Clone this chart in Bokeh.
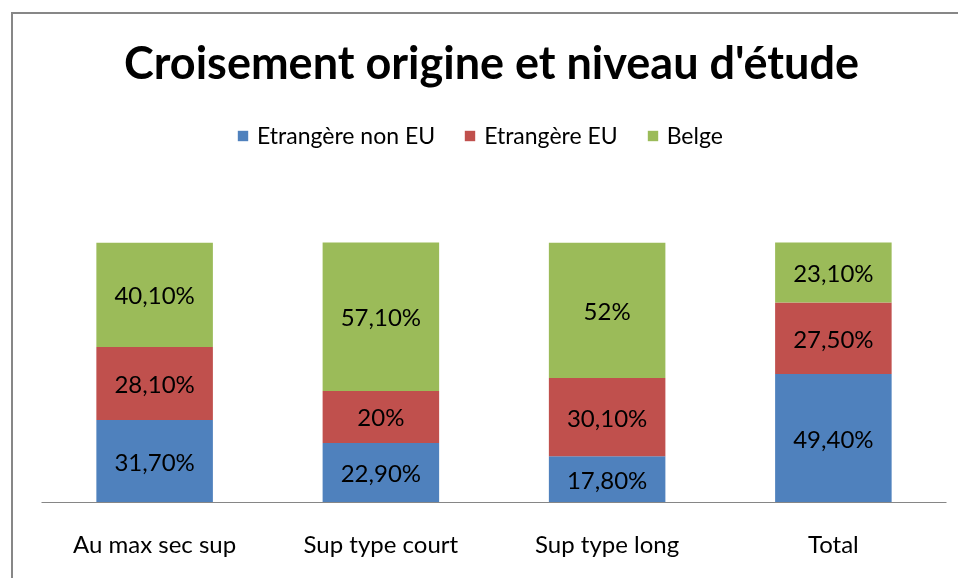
from bokeh.plotting import figure
from bokeh.models import (FactorRange, Range1d, ColumnDataSource, Legend, LegendItem, Label,
                          GlobalInlineStyleSheet)
from bokeh.core.properties import value
from bokeh.embed import file_html
from bokeh.resources import INLINE

categories = ["Au max sec sup", "Sup type court", "Sup type long", "Total"]
series_names = ["Etrangère non EU", "Etrangère EU", "Belge"]
non_eu = [31.7, 22.9, 17.8, 49.4]
eu = [28.1, 20.0, 30.1, 27.5]
belge = [40.1, 57.1, 52.0, 23.1]
colors = ["#4F81BD", "#C0504D", "#9BBB59"]
title_text = "Croisement origine et niveau d'étude"

FONT = "Lato"

def fmt(v):
    if abs(v - round(v)) < 1e-9:
        return f"{int(round(v))}%"
    return f"{v:.2f}".replace(".", ",") + "%"

# layout (pixels)
W, H = 947, 566
FRAME_H = 488          # frame height in px (bars use the lower 260 px for 0..100 %)
BAR_PX = 260
y_max = 100 * FRAME_H / BAR_PX

p = figure(x_range=FactorRange(*categories, range_padding=0), y_range=Range1d(0, y_max),
           width=W, height=H, output_backend="svg", toolbar_location=None, title=None,
           min_border_left=28, min_border_right=14, min_border_top=0,
           min_border_bottom=H - FRAME_H)
p.styles = {"border-left": "2px solid #878787", "border-top": "2px solid #878787",
            "position": "fixed", "left": "11px", "top": "12px"}
p.stylesheets = [GlobalInlineStyleSheet(css="html, body { overflow: hidden; }")]
p.outline_line_color = None
p.grid.visible = False
p.yaxis.visible = False
p.background_fill_color = "white"
p.border_fill_color = "white"

series = [non_eu, eu, belge]
bottoms = [0.0] * len(categories)
renderers = []
for name, vals, col in zip(series_names, series, colors):
    tops = [b + v for b, v in zip(bottoms, vals)]
    mids = [(b + t) / 2 for b, t in zip(bottoms, tops)]
    src = ColumnDataSource(dict(x=categories, bottom=bottoms, top=tops, mid=mids,
                                label=[fmt(v) for v in vals]))
    r = p.vbar(x="x", bottom="bottom", top="top", width=0.515, source=src,
               fill_color=col, line_color=None)
    renderers.append(r)
    p.text(x="x", y="mid", text="label", source=src, text_align="center",
           text_baseline="middle", text_font=value(FONT), text_font_size="24px",
           text_color="black")
    bottoms = tops

ax = p.xaxis[0]
ax.axis_line_color = "#868686"
ax.axis_line_width = 1
ax.major_tick_line_color = None
ax.minor_tick_line_color = None
ax.major_label_standoff = 20
ax.major_label_text_font = FONT
ax.major_label_text_font_size = "24px"
ax.major_label_text_color = "black"

legend = Legend(items=[LegendItem(label=n, renderers=[r]) for n, r in zip(series_names, renderers)],
                orientation="horizontal", location=(195, 353), padding=0, margin=0,
                glyph_width=13, glyph_height=13, label_standoff=8, spacing=28,
                label_text_font=FONT, label_text_font_size="23px", label_text_color="black",
                border_line_color=None, background_fill_alpha=0)
p.add_layout(legend, "center")

title = Label(x=450, y=441, x_units="screen", y_units="screen", text=title_text,
              text_align="center", text_baseline="alphabetic", text_font=FONT,
              text_font_size="45px", text_font_style="bold", text_color="black")
p.add_layout(title)

open("out.html", "w").write(file_html(p, INLINE))
